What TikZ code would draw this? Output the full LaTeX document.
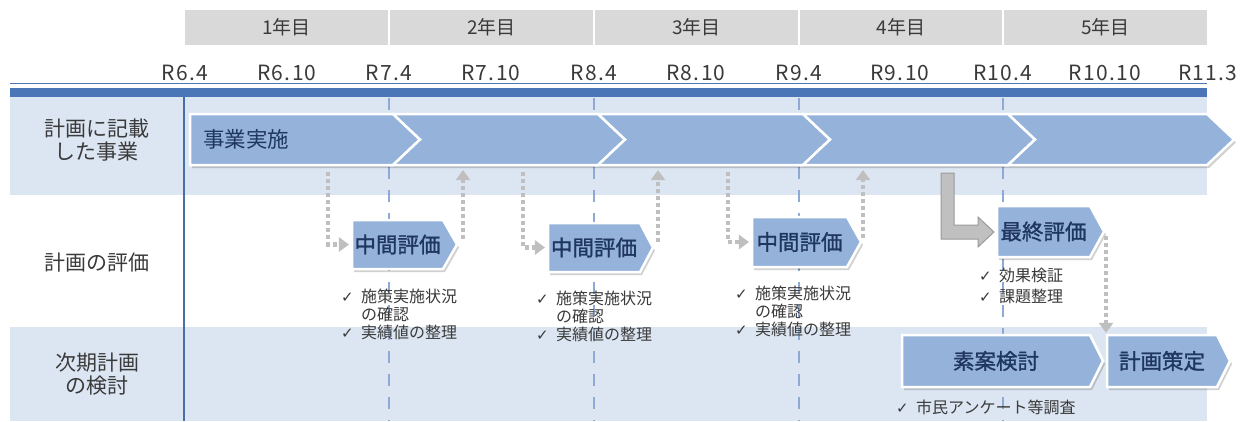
\documentclass[tikz,border=0pt]{standalone}
\usepackage{fontspec}
\setmainfont{Noto Sans CJK JP}
\newfontfamily\datefont{Noto Sans CJK JP}[LetterSpace=6]
\newfontfamily\boxfont{Noto Sans CJK JP}[FakeBold=1.2]
\newfontfamily\symfont{DejaVu Sans}
\usetikzlibrary{arrows.meta}
\definecolor{rowbg}{HTML}{DCE6F2}
\definecolor{hdr}{HTML}{D9D9D9}
\definecolor{band}{HTML}{4A76B8}
\definecolor{vline}{HTML}{4A6FA8}
\definecolor{dashc}{HTML}{8EA9D3}
\definecolor{boxfill}{HTML}{95B2DA}
\definecolor{boxtext}{HTML}{1F3660}
\definecolor{lbl}{HTML}{3A3A3A}
\definecolor{arr}{HTML}{BFBFBF}
\definecolor{lfill}{HTML}{C0C0C0}
\definecolor{ldraw}{HTML}{9A9A9A}
\newcommand\ck{\makebox[20bp][l]{\symfont\fontsize{15bp}{17bp}\selectfont ✓}}
\newcommand\pbox[7]{%
  \fill[boxshadow] ({#2+2},{#3+3}) -- ({#4+2},{#3+3}) -- ({#4+#6+2},{(#3+#5)/2+3}) -- ({#4+2},{#5+3}) -- ({#2+2},{#5+3}) -- cycle;
  \path[boxshape] (#2,#3) -- (#4,#3) -- ({#4+#6},{(#3+#5)/2}) -- (#4,#5) -- (#2,#5) -- cycle;
  \node[boxlbl, minimum width={#4-#2}, minimum height={#5-#3}] (#1) at ({(#2+#4)/2},{(#3+#5)/2}) {#7};
}
\newcommand\chev[4]{% name, x1, x2, notch depth
  \fill[boxshadow] ({#2+2},117) -- ({#3+2},117) -- ({#3+29},142.5) -- ({#3+2},168) -- ({#2+2},168) -- ({#2+#4+2},142.5) -- cycle;
  \path[boxshape] (#2,114) -- (#3,114) -- ({#3+27},139.5) -- (#3,165) -- (#2,165) -- ({#2+#4},139.5) -- cycle;
  \node[minimum width={#3-#2}, minimum height=51, inner sep=0] (#1) at ({(#2+#3)/2},139.5) {};
}
\tikzset{
  yearbox/.style={fill=hdr, minimum height=35bp, inner sep=0, text=lbl, font=\fontsize{19bp}{22bp}\selectfont},
  datelbl/.style={text=lbl, inner sep=0, font=\datefont\fontsize{21bp}{24bp}\selectfont},
  rowlbl/.style={text=lbl, align=center, inner sep=0, font=\fontsize{21bp}{23bp}\selectfont},
  boxshape/.style={fill=boxfill, draw=white, line width=2.5bp, line join=miter},
  boxshadow/.style={fill=black, opacity=.18},
  boxlbl/.style={text=boxtext, inner sep=0, font=\boxfont\fontsize{21.5bp}{24bp}\selectfont},
  ckitem/.style={text=lbl, inner sep=0, anchor=west, font=\fontsize{16bp}{18bp}\selectfont},
  dotarrow/.style={draw=arr, line width=4.5bp, dash pattern=on 4bp off 3bp, -{Triangle[width=14bp,length=10bp]}},
  bigarrow/.style={fill=lfill, draw=ldraw, line width=1bp, line join=miter},
}
\begin{document}
\begin{tikzpicture}[x=1bp, y=-1bp]
\useasboundingbox (0,0) rectangle (1248,421);
\fill[white] (0,0) rectangle (1248,421);
% header
\node[yearbox, minimum width=203bp] (y1) at (286.5,27.5) {1年目};
\node[yearbox, minimum width=203bp] (y2) at (491.5,27.5) {2年目};
\node[yearbox, minimum width=203bp] (y3) at (696.5,27.5) {3年目};
\node[yearbox, minimum width=202bp] (y4) at (901,27.5) {4年目};
\node[yearbox, minimum width=203bp] (y5) at (1105.5,27.5) {5年目};
\node[datelbl] (d1) at (185,73) {R6.4};
\node[datelbl] (d2) at (287,73) {R6.10};
\node[datelbl] (d3) at (389,73) {R7.4};
\node[datelbl] (d4) at (491,73) {R7.10};
\node[datelbl] (d5) at (594,73) {R8.4};
\node[datelbl] (d6) at (696,73) {R8.10};
\node[datelbl] (d7) at (799,73) {R9.4};
\node[datelbl] (d8) at (900,73) {R9.10};
\node[datelbl] (d9) at (1003,73) {R10.4};
\node[datelbl] (d10) at (1105,73) {R10.10};
\node[datelbl] (d11) at (1208,73) {R11.3};
\draw[band, line width=1.6bp] (10,83.5) -- (1207,83.5);
\fill[band] (10,88) rectangle (1207,97);
% rows
\fill[rowbg] (10,97) rectangle (1207,195);
\fill[rowbg] (10,327) rectangle (1207,421);
\foreach \x in {389,594,799,1003}
  \draw[dashc, line width=2bp, dash pattern=on 12bp off 11bp] (\x,98) -- (\x,421);
\draw[vline, line width=2.5bp] (184,97) -- (184,421);
\node[rowlbl] (r1) at (97,140) {計画に記載\\した事業};
\node[rowlbl] (r2) at (97,263) {計画の評価};
\node[rowlbl] (r3) at (97,374) {次期計画\\の検討};
% row 1 chevrons
\chev{ch1}{190}{393}{0}
\chev{ch2}{393}{598}{27}
\chev{ch3}{598}{803}{27}
\chev{ch4}{803}{1008}{27}
\chev{ch5}{1008}{1207}{27}
\node[boxlbl, font=\fontsize{21.5bp}{24bp}\selectfont, anchor=west] (jigyo) at (203,139.5) {事業実施};
% row 2 boxes
\pbox{mid1}{352}{220}{443}{269}{14}{中間評価}
\pbox{mid2}{548}{223}{640}{272}{13}{中間評価}
\pbox{mid3}{752}{217}{847}{267}{14}{中間評価}
\pbox{final}{997}{206}{1090}{257}{14}{最終評価}
% row 3 boxes
\pbox{soan}{902}{335}{1090}{387}{13}{素案検討}
\pbox{sakutei}{1107}{335}{1217}{387}{13}{計画策定}
% check items
\node[ckitem] (m1a) at (341,296) {\ck 施策実施状況};
\node[ckitem] (m1b) at (361,314) {の確認};
\node[ckitem] (m1c) at (341,332) {\ck 実績値の整理};
\node[ckitem] (m2a) at (536,298) {\ck 施策実施状況};
\node[ckitem] (m2b) at (556,316) {の確認};
\node[ckitem] (m2c) at (536,334) {\ck 実績値の整理};
\node[ckitem] (m3a) at (735,293) {\ck 施策実施状況};
\node[ckitem] (m3b) at (755,311) {の確認};
\node[ckitem] (m3c) at (735,329) {\ck 実績値の整理};
\node[ckitem] (f1a) at (979,275) {\ck 効果検証};
\node[ckitem] (f1b) at (979,296) {\ck 課題整理};
\node[ckitem] (s1a) at (896,407) {\ck 市民アンケート等調査};
% dotted arrows
\coordinate (dn1) at (328,172);
\coordinate (dn2) at (523,172);
\coordinate (dn3) at (728,172);
\coordinate (up1) at (463,239);
\coordinate (up2) at (658,242);
\coordinate (up3) at (863,238);
\coordinate (fd) at (1106,236);
\draw[dotarrow, shorten >=3bp] (dn1) |- (mid1.west);
\draw[dotarrow, shorten >=3bp] (dn2) |- (mid2.west);
\draw[dotarrow, shorten >=3bp] (dn3) |- (mid3.west);
\draw[dotarrow, shorten >=5bp] (up1) -- (up1 |- ch2.south);
\draw[dotarrow, shorten >=5bp] (up2) -- (up2 |- ch3.south);
\draw[dotarrow, shorten >=5bp] (up3) -- (up3 |- ch4.south);
\draw[dotarrow, shorten >=2bp] (fd) -- (fd |- sakutei.north);
% L-shaped block arrow
\path[bigarrow] (941,173) -- (954,173) -- (954,225) -- (978,225) -- (978,217) -- (994,232) -- (978,247) -- (978,239) -- (941,239) -- cycle;
\end{tikzpicture}
\end{document}
